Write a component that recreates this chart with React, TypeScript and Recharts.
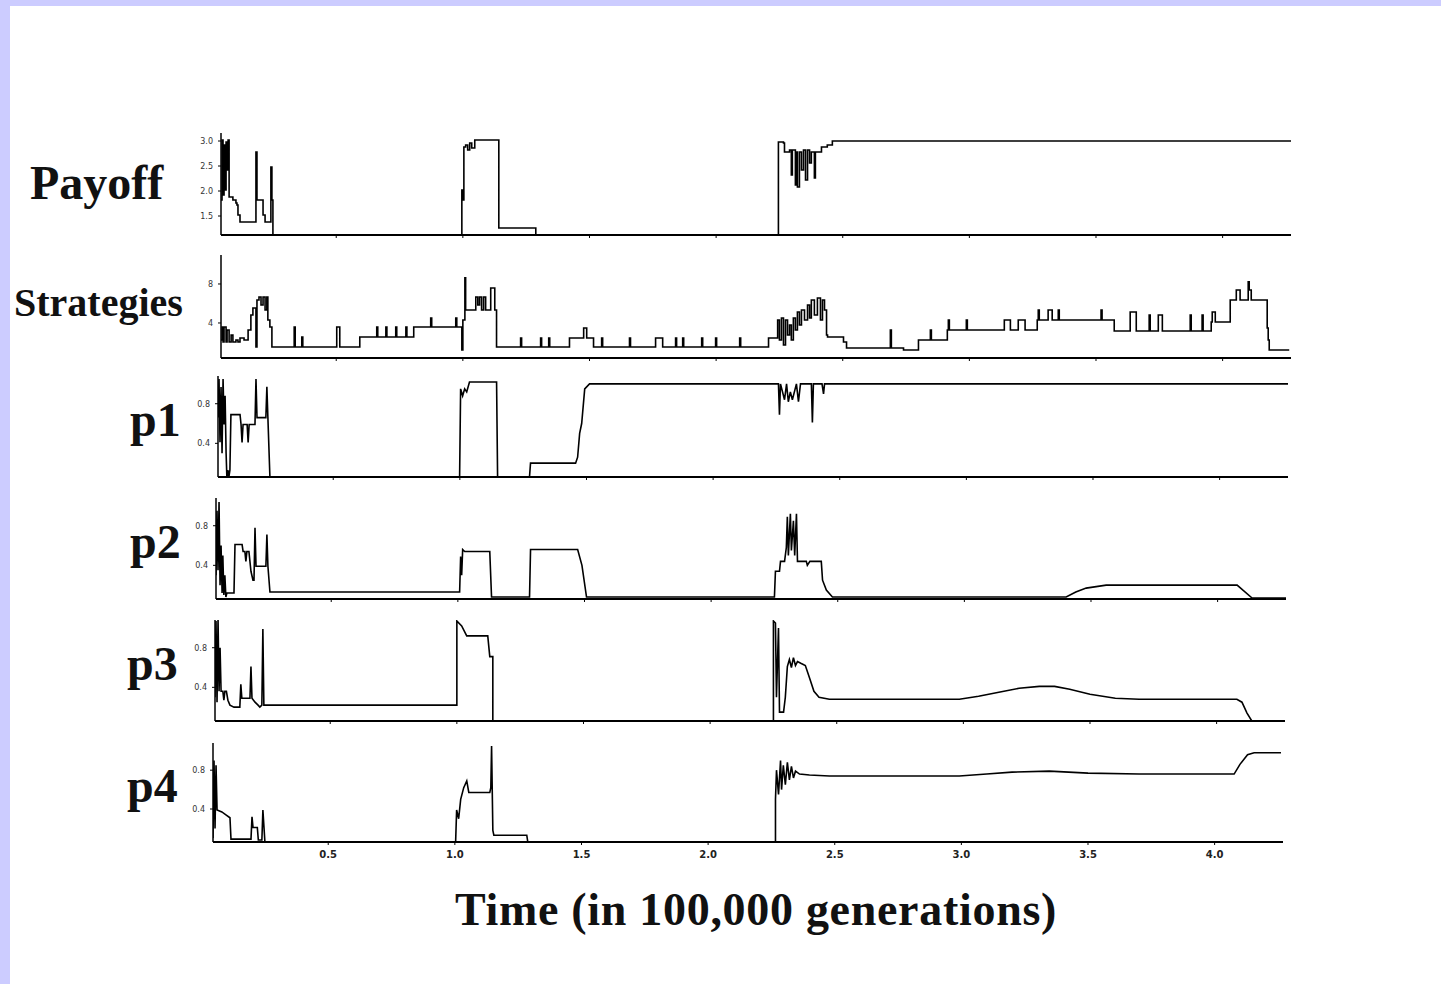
import React from 'react';
import { LineChart, Line, XAxis, YAxis } from 'recharts';

// ---- data: [time (100,000 generations), value] ----
const PAYOFF: [number, number][] = [
  [0.045,1.82],[0.049,3.02],[0.053,1.92],[0.057,2.92],[0.061,2.02],[0.065,2.98],[0.069,2.42],[0.073,3.02],[0.077,1.88],[0.092,1.82],[0.104,1.76],[0.108,1.72],[0.112,1.52],[0.12,1.38],[0.179,1.38],[0.183,2.78],[0.187,1.82],[0.207,1.82],[0.211,1.52],[0.219,1.38],[0.238,1.38],[0.242,2.48],[0.246,1.82],[0.25,1.12],
  [0.996,1.12],[0.996,2.02],[1.0,1.82],[1.004,2.88],[1.011,2.92],[1.019,2.82],[1.027,2.96],[1.035,2.86],[1.047,3.02],[1.142,3.02],[1.142,1.26],[1.288,1.26],[1.288,1.12],
  [2.246,1.12],[2.246,2.98],[2.266,2.96],[2.27,2.78],[2.29,2.82],[2.297,2.32],[2.301,2.82],[2.313,2.12],[2.317,2.78],[2.321,2.08],[2.329,2.78],[2.337,2.42],[2.345,2.82],[2.353,2.22],[2.361,2.82],[2.369,2.56],[2.376,2.78],[2.388,2.26],[2.392,2.78],[2.408,2.78],[2.416,2.88],[2.439,2.92],[2.459,3.0],[4.27,3.0],
];

const STRATEGIES: [number, number][] = [
  [0.045,2.26],[0.049,3.59],[0.053,2.05],[0.057,3.59],[0.065,2.05],[0.069,3.28],[0.077,2.05],[0.085,2.77],[0.092,2.05],[0.104,2.26],[0.112,2.05],[0.12,2.46],[0.136,2.26],[0.148,2.26],[0.152,3.28],[0.159,3.28],[0.163,4.82],[0.171,5.54],[0.179,5.54],[0.183,1.54],[0.187,6.36],[0.195,6.67],[0.203,5.85],[0.211,6.67],[0.219,5.33],[0.226,6.67],[0.23,4.31],[0.238,3.59],[0.246,1.54],
  [0.33,1.54],[0.334,3.59],[0.338,1.54],[0.36,1.54],[0.364,2.56],[0.368,1.54],[0.498,1.54],[0.502,3.59],[0.51,3.59],[0.514,1.54],[0.585,1.54],[0.593,2.56],[0.656,2.56],[0.66,3.59],[0.664,2.56],[0.692,2.56],[0.696,3.59],[0.7,2.56],[0.731,2.56],[0.735,3.59],[0.739,2.56],[0.771,2.56],[0.775,3.59],[0.779,2.56],[0.8,2.56],[0.806,3.59],[0.869,3.59],[0.873,4.51],[0.877,3.59],[0.968,3.59],[0.972,4.51],[0.976,3.59],[0.992,3.59],[0.996,1.23],[1.0,4.31],[1.008,8.62],[1.011,5.33],[1.027,5.33],[1.047,5.33],[1.051,6.67],[1.059,5.85],[1.066,6.67],[1.074,5.33],[1.082,6.67],[1.09,5.33],[1.106,5.33],[1.11,7.59],[1.122,7.59],[1.126,5.33],[1.133,1.54],
  [1.224,1.54],[1.228,2.46],[1.232,1.54],[1.303,1.54],[1.307,2.46],[1.311,1.54],[1.335,1.54],[1.339,2.46],[1.343,1.54],[1.413,1.54],[1.421,2.46],[1.473,2.46],[1.477,3.49],[1.489,2.46],[1.5,2.46],[1.516,1.54],[1.544,1.54],[1.548,2.46],[1.552,1.54],[1.654,1.54],[1.658,2.46],[1.662,1.54],[1.757,1.54],[1.761,2.46],[1.785,2.46],[1.789,1.54],[1.836,1.54],[1.84,2.46],[1.844,1.54],[1.864,1.54],[1.868,2.46],[1.872,1.54],[1.939,1.54],[1.943,2.46],[1.947,1.54],[1.994,1.54],[1.998,2.46],[2.002,1.54],[2.089,1.54],[2.093,2.46],[2.097,1.54],
  [2.203,1.54],[2.207,2.46],[2.239,2.46],[2.243,4.31],[2.25,2.26],[2.258,4.51],[2.266,1.74],[2.274,4.31],[2.282,2.77],[2.29,3.79],[2.297,2.26],[2.305,4.51],[2.313,3.28],[2.321,5.13],[2.329,3.79],[2.337,5.33],[2.349,4.31],[2.361,5.85],[2.369,4.51],[2.376,6.36],[2.388,4.82],[2.4,6.56],[2.412,4.31],[2.42,6.36],[2.428,5.33],[2.436,2.77],[2.44,2.56],[2.499,2.56],[2.503,2.05],[2.511,2.05],[2.515,1.44],[2.684,1.44],[2.688,3.28],[2.692,1.44],[2.736,1.44],[2.74,1.23],[2.795,1.23],[2.799,2.26],[2.842,2.26],[2.846,3.28],[2.85,2.26],[2.909,2.26],[2.913,3.28],[2.917,4.31],[2.921,3.28],[2.984,3.28],[2.988,4.31],[2.992,3.28],
  [3.134,3.28],[3.138,4.31],[3.158,4.31],[3.162,3.28],[3.189,3.28],[3.193,4.31],[3.216,4.31],[3.22,3.28],[3.264,3.28],[3.268,4.31],[3.272,5.33],[3.276,4.31],[3.307,4.31],[3.311,5.33],[3.323,5.33],[3.327,4.31],[3.347,4.31],[3.351,5.33],[3.355,4.31],[3.516,4.31],[3.52,5.33],[3.524,4.31],[3.568,4.31],[3.572,3.18],[3.631,3.18],[3.635,5.13],[3.655,5.13],[3.659,3.18],[3.706,3.18],[3.71,4.82],[3.714,3.18],[3.742,3.18],[3.746,4.82],[3.758,4.82],[3.762,3.18],[3.868,3.18],[3.872,4.82],[3.876,3.18],[3.915,3.18],[3.919,4.82],[3.923,3.18],[3.951,3.18],[3.955,4.1],[3.959,5.13],[3.967,5.13],[3.971,4.1],[4.026,4.1],[4.03,6.36],[4.05,6.36],[4.054,7.38],[4.065,7.38],[4.069,6.36],[4.097,6.36],[4.101,8.21],[4.105,7.38],[4.113,6.36],[4.172,6.36],[4.176,3.49],[4.18,2.26],[4.184,1.23],[4.263,1.23],
];

const P1: [number, number][] = [
  [0.045,0.66],[0.049,1.05],[0.053,0.41],[0.057,0.97],[0.061,0.3],[0.065,1.05],[0.069,0.59],[0.073,0.88],[0.077,0.3],[0.08,0.06],[0.084,0.13],[0.088,0.06],[0.092,0.13],[0.096,0.69],[0.132,0.69],[0.136,0.59],[0.14,0.41],[0.144,0.59],[0.16,0.59],[0.164,0.41],[0.168,0.59],[0.191,0.59],[0.195,1.05],[0.199,0.66],[0.234,0.66],[0.238,0.97],[0.242,0.66],[0.25,0.06],
  [0.999,0.06],[1.003,0.95],[1.011,0.88],[1.019,0.95],[1.027,0.92],[1.038,1.02],[1.145,1.02],[1.149,0.06],[1.275,0.06],[1.279,0.2],[1.457,0.2],[1.465,0.26],[1.473,0.5],[1.481,0.6],[1.493,0.95],[1.512,1.0],
  [2.258,1.0],[2.262,0.69],[2.266,1.0],[2.282,0.84],[2.29,1.0],[2.297,0.82],[2.305,0.92],[2.313,0.84],[2.329,1.0],[2.337,0.82],[2.345,1.0],[2.388,1.0],[2.392,0.61],[2.396,1.0],[2.43,1.0],[2.436,0.9],[2.44,1.0],[4.274,1.0],
];

const P2: [number, number][] = [
  [0.045,0.3],[0.049,0.95],[0.053,0.35],[0.057,1.04],[0.061,0.2],[0.065,0.6],[0.069,0.12],[0.072,0.5],[0.076,0.1],[0.08,0.3],[0.084,0.08],[0.088,0.12],[0.116,0.12],[0.12,0.61],[0.148,0.61],[0.152,0.54],[0.159,0.54],[0.163,0.44],[0.167,0.54],[0.175,0.54],[0.183,0.34],[0.191,0.25],[0.195,0.25],[0.199,0.78],[0.203,0.39],[0.242,0.39],[0.246,0.71],[0.25,0.39],[0.258,0.13],
  [1.007,0.13],[1.011,0.49],[1.015,0.3],[1.019,0.56],[1.027,0.54],[1.126,0.54],[1.133,0.08],[1.283,0.08],[1.287,0.56],[1.473,0.56],[1.49,0.4],[1.508,0.08],
  [2.25,0.08],[2.254,0.34],[2.27,0.34],[2.274,0.44],[2.29,0.44],[2.297,0.58],[2.301,0.89],[2.305,0.5],[2.313,0.92],[2.317,0.55],[2.325,0.85],[2.33,0.5],[2.337,0.92],[2.341,0.44],[2.376,0.44],[2.38,0.4],[2.39,0.44],[2.435,0.44],[2.44,0.25],[2.455,0.15],[2.479,0.08],
  [3.402,0.08],[3.44,0.13],[3.481,0.17],[3.56,0.2],[4.077,0.2],[4.136,0.07],[4.27,0.07],
];

const P3: [number, number][] = [
  [0.045,0.3],[0.049,1.07],[0.053,0.25],[0.057,1.09],[0.061,0.36],[0.065,0.8],[0.069,0.36],[0.076,0.36],[0.08,0.27],[0.084,0.36],[0.09,0.36],[0.096,0.27],[0.104,0.22],[0.12,0.2],[0.143,0.2],[0.147,0.43],[0.151,0.29],[0.183,0.29],[0.187,0.61],[0.191,0.29],[0.203,0.25],[0.215,0.22],[0.222,0.2],[0.23,0.22],[0.234,0.99],[0.238,0.22],[0.242,0.22],
  [1.0,0.22],[1.0,1.07],[1.019,1.02],[1.039,0.92],[1.122,0.92],[1.13,0.71],[1.142,0.71],[1.142,0.06],
  [2.25,0.06],[2.25,1.07],[2.258,1.05],[2.262,0.3],[2.27,1.0],[2.274,0.15],[2.29,0.15],[2.297,0.3],[2.305,0.61],[2.313,0.68],[2.321,0.6],[2.329,0.7],[2.337,0.62],[2.345,0.66],[2.36,0.64],[2.376,0.62],[2.392,0.5],[2.41,0.36],[2.43,0.3],[2.471,0.28],
  [2.984,0.28],[3.06,0.31],[3.14,0.35],[3.22,0.39],[3.3,0.41],[3.36,0.41],[3.42,0.38],[3.5,0.33],[3.6,0.29],[3.694,0.28],[4.08,0.28],[4.1,0.25],[4.12,0.14],[4.139,0.06],[4.273,0.06],
];

const P4: [number, number][] = [
  [0.045,0.1],[0.049,0.9],[0.053,0.2],[0.057,0.85],[0.061,0.39],[0.08,0.37],[0.096,0.34],[0.112,0.31],[0.116,0.09],[0.195,0.09],[0.199,0.32],[0.203,0.21],[0.22,0.21],[0.224,0.08],[0.238,0.08],[0.242,0.39],[0.25,0.06],
  [1.003,0.06],[1.007,0.39],[1.015,0.3],[1.023,0.5],[1.035,0.62],[1.047,0.69],[1.055,0.57],[1.138,0.57],[1.142,0.62],[1.145,1.05],[1.15,0.18],[1.154,0.13],[1.284,0.13],[1.288,0.06],
  [2.266,0.06],[2.266,0.5],[2.27,0.8],[2.278,0.55],[2.286,0.9],[2.29,0.6],[2.297,0.85],[2.305,0.65],[2.313,0.88],[2.321,0.7],[2.329,0.84],[2.337,0.72],[2.345,0.79],[2.361,0.76],[2.4,0.75],[2.479,0.74],
  [2.992,0.74],[3.1,0.76],[3.2,0.78],[3.347,0.79],[3.5,0.77],[3.702,0.76],[4.077,0.76],[4.1,0.86],[4.13,0.96],[4.156,0.98],[4.262,0.98],
];

const X_TICKS = [0.5, 1.0, 1.5, 2.0, 2.5, 3.0, 3.5, 4.0];
const PAYOFF_TICKS = [1.5, 2.0, 2.5, 3.0];
const STRATEGY_TICKS = [4, 8];
const P_TICKS = [0.4, 0.8];

const X_DOMAIN: [number, number] = [0.045, 4.27];
const PLOT_W = 1070;
const Y_W = 40;

type PanelProps = {
  data: [number, number][];
  left: number;
  top: number;
  plotH: number;
  domain: [number, number];
  yTicks: number[];
  yFmt: (v: number) => string;
  showX?: boolean;
  curve?: 'linear' | 'stepAfter';
};

function Panel({ data, left, top, plotH, domain, yTicks, yFmt, showX, curve = 'linear' }: PanelProps) {
  const xH = showX ? 26 : 6;
  const pts = data.map(([t, v]) => ({ t, v }));
  return (
    <div style={{ position: 'absolute', left: left - Y_W, top: top - 5 }}>
      <LineChart
        width={Y_W + PLOT_W + 5}
        height={5 + plotH + xH}
        data={pts}
        margin={{ top: 5, right: 5, left: 0, bottom: 0 }}
      >
        <XAxis
          dataKey="t"
          type="number"
          domain={X_DOMAIN}
          ticks={X_TICKS}
          allowDataOverflow
          height={xH}
          axisLine={{ stroke: '#000', strokeWidth: 2 }}
          tickLine={{ stroke: '#000', strokeWidth: 1 }}
          tickSize={3}
          tickMargin={6}
          tick={{ fontSize: 10, fill: '#222', fontFamily: 'DejaVu Sans', fontWeight: 'bold' }}
          tickFormatter={(v: number) => (showX ? v.toFixed(1) : '')}
        />
        <YAxis
          type="number"
          domain={domain}
          ticks={yTicks}
          allowDataOverflow
          width={Y_W}
          axisLine={{ stroke: '#000', strokeWidth: 1.5 }}
          tickLine={{ stroke: '#000', strokeWidth: 1 }}
          tickSize={3}
          tickMargin={5}
          tick={{ fontSize: 8, fill: '#333', fontFamily: 'DejaVu Sans' }}
          tickFormatter={yFmt}
        />
        <Line
          dataKey="v"
          type={curve}
          stroke="#000"
          strokeWidth={1.6}
          dot={false}
          isAnimationActive={false}
        />
      </LineChart>
    </div>
  );
}

const serif = '"Liberation Serif", "Times New Roman", serif';

export default function App() {
  return (
    <div style={{ position: 'absolute', left: 0, top: 0, width: 1441, height: 984, background: '#ccccff', overflow: 'hidden' }}>
      <div style={{ position: 'absolute', left: 10, top: 6, width: 1431, height: 978, background: '#ffffff' }} />
      <Panel data={PAYOFF} left={221} top={133} plotH={102} domain={[1.12, 3.16]} yTicks={PAYOFF_TICKS} yFmt={(v) => v.toFixed(1)} curve="stepAfter" />
      <Panel data={STRATEGIES} left={221} top={255} plotH={103} domain={[0.41, 10.97]} yTicks={STRATEGY_TICKS} yFmt={(v) => String(v)} curve="stepAfter" />
      <Panel data={P1} left={218} top={376} plotH={101} domain={[0.06, 1.08]} yTicks={P_TICKS} yFmt={(v) => v.toFixed(1)} />
      <Panel data={P2} left={216} top={498} plotH={101} domain={[0.06, 1.08]} yTicks={P_TICKS} yFmt={(v) => v.toFixed(1)} />
      <Panel data={P3} left={215} top={620} plotH={101} domain={[0.06, 1.08]} yTicks={P_TICKS} yFmt={(v) => v.toFixed(1)} />
      <Panel data={P4} left={213} top={743} plotH={99} domain={[0.06, 1.08]} yTicks={P_TICKS} yFmt={(v) => v.toFixed(1)} showX />
      <svg width={1441} height={984} style={{ position: 'absolute', left: 0, top: 0, pointerEvents: 'none' }}>
        <g fontFamily={serif} fontWeight="bold" fill="#111">
          <text x={30} y={199} fontSize={48}>Payoff</text>
          <text x={14} y={316} fontSize={40}>Strategies</text>
          <text x={130} y={436} fontSize={48}>p1</text>
          <text x={130} y={558} fontSize={48}>p2</text>
          <text x={127} y={680} fontSize={48}>p3</text>
          <text x={127} y={802} fontSize={48}>p4</text>
          <text x={756} y={925} fontSize={46} textAnchor="middle" letterSpacing={0.7}>Time (in 100,000 generations)</text>
        </g>
      </svg>
    </div>
  );
}
